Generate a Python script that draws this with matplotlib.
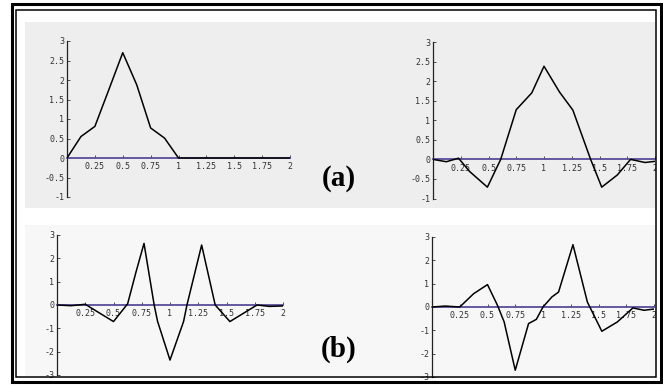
import matplotlib
matplotlib.use("Agg")
import matplotlib.pyplot as plt
from matplotlib.patches import Rectangle

W, H = 663, 386

# (a) left: scaling function, right: wavelet
xa1 = [0, 0.125, 0.25, 0.375, 0.5, 0.625, 0.75, 0.875, 1.0, 2.0]
ya1 = [0, 0.55, 0.81, 1.75, 2.7, 1.88, 0.77, 0.51, 0, 0]

xa2 = [0, 0.12, 0.23, 0.33, 0.49, 0.61, 0.75, 0.89, 1.0, 1.14, 1.26, 1.42, 1.52, 1.66, 1.78, 1.91, 2.03]
ya2 = [0, -0.06, 0.03, -0.31, -0.71, 0, 1.27, 1.70, 2.38, 1.72, 1.26, 0, -0.71, -0.4, 0, -0.08, -0.04]

# (b) two more wavelets
xb1 = [0, 0.125, 0.25, 0.5, 0.625, 0.70, 0.77, 0.86, 0.89, 1.0, 1.12, 1.15, 1.28, 1.40, 1.53, 1.77, 1.88, 2.0]
yb1 = [0, -0.03, 0.03, -0.71, 0.05, 1.43, 2.64, 0.0, -0.70, -2.36, -0.71, 0.0, 2.57, 0.0, -0.71, 0.0, -0.06, -0.04]

xb2 = [0, 0.12, 0.25, 0.375, 0.5, 0.59, 0.65, 0.75, 0.87, 0.94, 1.0, 1.08, 1.14, 1.27, 1.40, 1.53, 1.67, 1.81, 1.91, 2.03]
yb2 = [0, 0.04, 0, 0.57, 0.96, 0.07, -0.64, -2.71, -0.71, -0.53, 0, 0.43, 0.64, 2.67, 0.21, -1.04, -0.64, -0.04, -0.14, -0.07]

xticks = [0.25, 0.5, 0.75, 1, 1.25, 1.5, 1.75, 2]
xticklabels = ["0.25", "0.5", "0.75", "1", "1.25", "1.5", "1.75", "2"]
yticks_a = [-1, -0.5, 0, 0.5, 1, 1.5, 2, 2.5, 3]
yticklabels_a = ["-1", "-0.5", "0", "0.5", "1", "1.5", "2", "2.5", "3"]
yticks_b = [-3, -2, -1, 0, 1, 2, 3]
yticklabels_b = ["-3", "-2", "-1", "0", "1", "2", "3"]


def px_rect(x0, y0, x1, y1):
    # pixel box (top-left origin) -> figure fraction rect
    return [x0 / W, 1 - y1 / H, (x1 - x0) / W, (y1 - y0) / H]


fig = plt.figure(figsize=(W / 100, H / 100), dpi=100, facecolor="white")

# scanned page backgrounds
for (x0, y0, x1, y1, c) in [(25, 22, 655, 208, "#eeeeee"), (25, 225, 655, 376, "#f7f7f7")]:
    r = px_rect(x0, y0, x1, y1)
    fig.add_artist(Rectangle((r[0], r[1]), r[2], r[3], transform=fig.transFigure,
                             facecolor=c, edgecolor="none", zorder=-5))


def panel(box, x, y, ylim, yticks, yticklabels, xmax=2.0):
    ax = fig.add_axes(px_rect(*box))
    ax.patch.set_visible(False)
    ax.plot(x, y, color="black", lw=1.1, zorder=3)
    ax.set_xlim(0, xmax)
    ax.set_ylim(*ylim)
    ax.spines["top"].set_visible(False)
    ax.spines["right"].set_visible(False)
    ax.spines["bottom"].set_position(("data", 0))
    ax.spines["bottom"].set_color("#5a4c9a")
    ax.spines["bottom"].set_linewidth(1.3)
    ax.spines["left"].set_color("#222222")
    ax.spines["left"].set_linewidth(0.9)
    ax.set_xticks(xticks)
    ax.set_xticklabels(xticklabels, family="DejaVu Sans Mono")
    ax.set_yticks(yticks)
    ax.set_yticklabels(yticklabels, family="DejaVu Sans Mono")
    ax.tick_params(axis="both", labelsize=6, colors="#333333", length=2, width=0.6,
                   direction="in", pad=2)
    ax.tick_params(axis="x", pad=3)
    return ax


panel((67, 41, 290, 197), xa1, ya1, (-1, 3), yticks_a, yticklabels_a)
panel((433, 42, 655, 198.5), xa2, ya2, (-1, 3), yticks_a, yticklabels_a, xmax=1.995)
panel((57, 235, 283, 375), xb1, yb1, (-3, 3), yticks_b, yticklabels_b)
panel((432, 237, 654, 377), xb2, yb2, (-3, 3), yticks_b, yticklabels_b, xmax=2.0)

fig.text(339 / W, 1 - 178 / H, "(a)", ha="center", va="center", fontsize=21,
         fontweight="bold", family="Liberation Serif")
fig.text(339 / W, 1 - 349 / H, "(b)", ha="center", va="center", fontsize=21,
         fontweight="bold", family="Liberation Serif")

# double frame around the figure
for (x0, y0, x1, y1, lw) in [(11.5, 3.8, 660.5, 381.5, 2.2), (15.5, 9.5, 655.5, 376.5, 1.1)]:
    r = px_rect(x0, y0, x1, y1)
    fig.add_artist(Rectangle((r[0], r[1]), r[2], r[3], transform=fig.transFigure,
                             facecolor="none", edgecolor="black", lw=lw, zorder=10))

# white margin outside the inner frame hides overflow of the right panels
r = px_rect(655.5, 0, 663, 386)
fig.add_artist(Rectangle((r[0], r[1]), r[2], r[3], transform=fig.transFigure,
                         facecolor="white", edgecolor="none", zorder=9))

fig.savefig("out.png", dpi=100)
